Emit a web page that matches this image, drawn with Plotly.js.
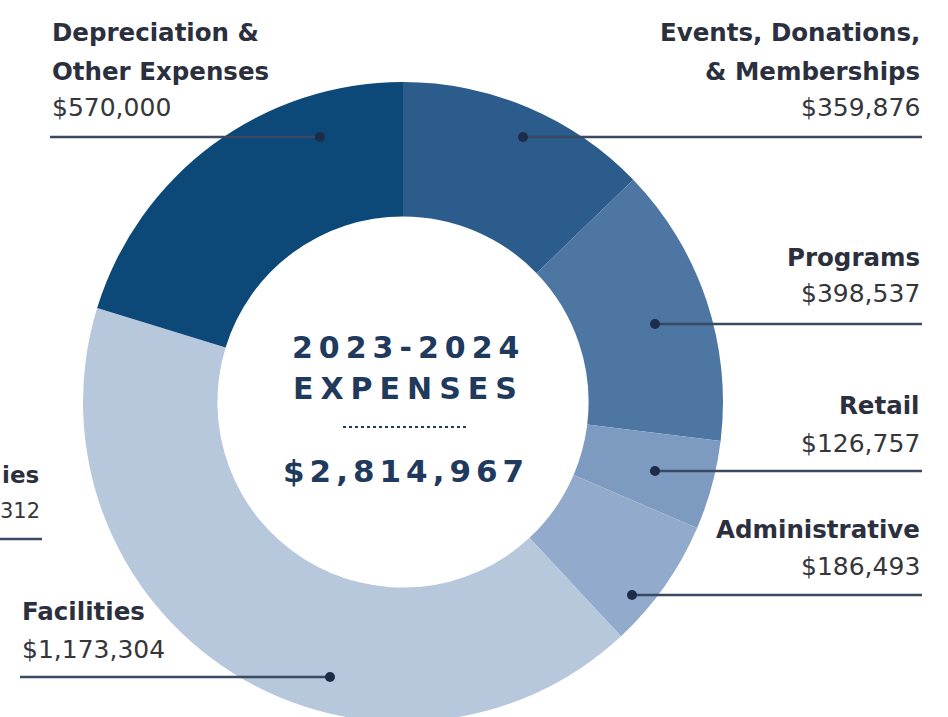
<!DOCTYPE html>
<html><head><meta charset="utf-8">
<script src="https://cdn.plot.ly/plotly-3.0.1.min.js"></script>
<style>html,body{margin:0;padding:0;overflow:hidden;background:#fff}</style>
</head><body><div id="chart"></div>
<script>
// ---- data ----
const categories = ["Events, Donations, & Memberships", "Programs", "Retail", "Administrative", "Facilities", "Depreciation & Other Expenses"];
const labelLines = [["Events, Donations,", "& Memberships"], ["Programs"], ["Retail"], ["Administrative"], ["Facilities"], ["Depreciation &", "Other Expenses"]];
const values = [359876, 398537, 126757, 186493, 1173304, 570000];
const valueLabels = ["$359,876", "$398,537", "$126,757", "$186,493", "$1,173,304", "$570,000"];
const sliceColors = ["#2b5c8b", "#4d76a3", "#7d9bc1", "#92aacb", "#b7c8dc", "#0c4979"];
const centerTitle = ["2023-2024", "EXPENSES"];
const totalLabel = "$2,814,967";
const clippedLabel = ["ies", "312"];

// ---- layout helpers (pixels -> paper) ----
const W = 948, H = 800;
const px = x => x / W;
const py = y => 1 - y / H;

// label placement per slice (layout only)
const place = [
  {side: "right", x: 922, lines: [32, 72], val: 107, lead: 137, dot: 523},
  {side: "right", x: 922, lines: [257], val: 293, lead: 324, dot: 655},
  {side: "right", x: 922, lines: [405], val: 443, lead: 471, dot: 655},
  {side: "right", x: 922, lines: [529], val: 566, lead: 595, dot: 632},
  {side: "left", x: 20, lines: [611], val: 649, lead: 677, dot: 330},
  {side: "left", x: 50, lines: [32, 72], val: 107, lead: 137, dot: 320}
];

const labelFont = {family: "DejaVu Sans", size: 24.5, color: "#2c2f3d", weight: 700};
const valueFont = {family: "DejaVu Sans", size: 25, color: "#35363c"};
const lineColor = "#3a4a64";

const annotations = [];
const shapes = [];
place.forEach((p, i) => {
  const anchor = p.side === "right" ? "right" : "left";
  labelLines[i].forEach((t, k) => {
    annotations.push({xref: "paper", yref: "paper", x: px(p.x), y: py(p.lines[k]), text: t,
      xanchor: anchor, yanchor: "middle", showarrow: false, font: labelFont});
  });
  annotations.push({xref: "paper", yref: "paper", x: px(p.x), y: py(p.val), text: valueLabels[i],
    xanchor: anchor, yanchor: "middle", showarrow: false, font: valueFont});
  shapes.push({type: "line", xref: "paper", yref: "paper", x0: px(p.dot), x1: px(p.x), y0: py(p.lead), y1: py(p.lead),
    line: {color: lineColor, width: 2.5}});
  shapes.push({type: "circle", xref: "paper", yref: "paper", x0: px(p.dot - 5), x1: px(p.dot + 5), y0: py(p.lead - 5), y1: py(p.lead + 5),
    fillcolor: "#1c2d4a", line: {width: 0}});
});

// clipped label at the left edge
annotations.push({xref: "paper", yref: "paper", x: px(41), y: py(475), text: clippedLabel[0], xanchor: "right", yanchor: "middle", showarrow: false,
  font: {family: "DejaVu Sans", size: 23, color: "#2c2f3d", weight: 700}});
annotations.push({xref: "paper", yref: "paper", x: px(42), y: py(511), text: clippedLabel[1], xanchor: "right", yanchor: "middle", showarrow: false,
  font: {family: "DejaVu Sans", size: 21, color: "#35363c"}});
shapes.push({type: "line", xref: "paper", yref: "paper", x0: px(0), x1: px(42), y0: py(539), y1: py(539), line: {color: lineColor, width: 2.5}});

// center text
const centerFont = {family: "DejaVu Sans", size: 30, color: "#1f3a5d", weight: 800};
annotations.push({xref: "paper", yref: "paper", x: px(408), y: py(347), text: centerTitle[0], xanchor: "center", yanchor: "middle", showarrow: false, font: centerFont});
annotations.push({xref: "paper", yref: "paper", x: px(408), y: py(388), text: centerTitle[1], xanchor: "center", yanchor: "middle", showarrow: false, font: centerFont});
annotations.push({xref: "paper", yref: "paper", x: px(406), y: py(471), text: totalLabel, xanchor: "center", yanchor: "middle", showarrow: false,
  font: {family: "DejaVu Sans", size: 31, color: "#1f3a5d", weight: 800}});
shapes.push({type: "line", xref: "paper", yref: "paper", x0: px(343), x1: px(467), y0: py(427), y1: py(427),
  line: {color: "#1f3a5d", width: 2, dash: "dot"}});

const trace = {
  type: "pie",
  labels: categories,
  values: values,
  hole: 0.58,
  sort: false,
  direction: "clockwise",
  rotation: 0,
  textinfo: "none",
  hoverinfo: "label+value",
  marker: {colors: sliceColors, line: {width: 0}},
  domain: {x: [px(83), px(723)], y: [py(722), py(82)]},
  showlegend: false
};

const layout = {
  width: W, height: H,
  margin: {l: 0, r: 0, t: 0, b: 0},
  paper_bgcolor: "#ffffff",
  plot_bgcolor: "#ffffff",
  showlegend: false,
  annotations: annotations,
  shapes: shapes
};

Plotly.newPlot("chart", [trace], layout, {displayModeBar: false, staticPlot: true}).then(() => {
  const spacing = {"2023-2024": 6, "EXPENSES": 7, [totalLabel]: 5};
  document.querySelectorAll(".annotation-text").forEach(el => {
    const s = spacing[el.textContent];
    if (s !== undefined) el.setAttribute("letter-spacing", s + "px");
  });
});
</script>
</body></html>
